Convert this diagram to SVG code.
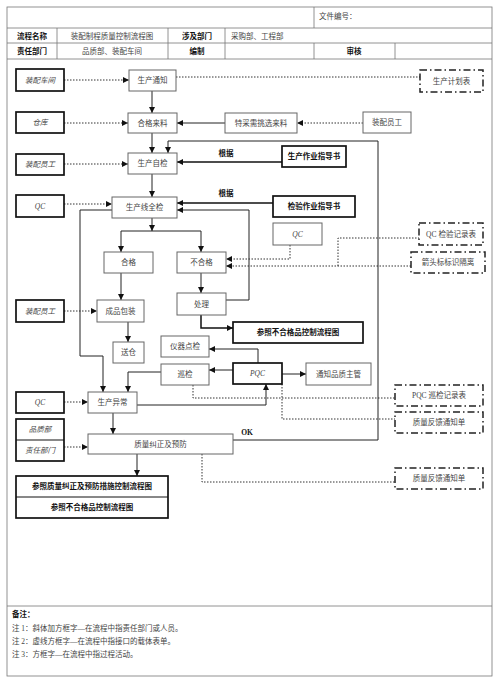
<svg xmlns="http://www.w3.org/2000/svg" width="500" height="684" viewBox="0 0 500 684">
<style>
text{font-family:"Liberation Serif","Noto Sans CJK SC",serif;font-size:7.5px;fill:#444;text-anchor:middle;dominant-baseline:central}
.b{font-weight:bold;fill:#111}
.i{font-style:italic}
.l{text-anchor:start}
.thin{fill:#fff;stroke:#666;stroke-width:1}
.thick{fill:#fff;stroke:#111;stroke-width:1.7}
.dd{fill:#fff;stroke:#222;stroke-width:1.5;stroke-dasharray:7 3 1.5 3}
.grid{stroke:#777;stroke-width:0.8;fill:none}
.c{fill:none;stroke:#222;stroke-width:1}
.cb{fill:none;stroke:#111;stroke-width:1.5}
.d{fill:none;stroke:#333;stroke-width:1;stroke-dasharray:1.5 1.5}
</style>
<defs>
<marker id="a" markerUnits="userSpaceOnUse" markerWidth="6" markerHeight="6" refX="6" refY="3" orient="auto">
<path d="M0,0 L6,3 L0,6 z" fill="#111"/>
</marker>
</defs>
<rect width="500" height="684" fill="#fff"/>
<g id="frame">
<rect x="7" y="7" width="485" height="669" class="grid"/>
<path class="grid" d="M7,28H492M7,43H492M7,59H492M314,7V28M57,28V59M168,28V59M225,28V59M314,43V59M395,43V59M7,606H492"/>
<text x="319" y="16" class="l">文件编号：</text>
<text x="32" y="36" class="b">流程名称</text>
<text x="112" y="36">装配制程质量控制流程图</text>
<text x="197" y="36" class="b">涉及部门</text>
<text x="231" y="36" class="l">采购部、工程部</text>
<text x="32" y="51" class="b">责任部门</text>
<text x="112" y="51">品质部、装配车间</text>
<text x="197" y="51" class="b">编制</text>
<text x="354" y="51" class="b">审核</text>
<text x="12" y="614" class="b l">备注：</text>
<text x="12" y="628" class="l">注 1：斜体加方框字—在流程中指责任部门或人员。</text>
<text x="12" y="641" class="l">注 2：虚线方框字—在流程中指接口的载体表单。</text>
<text x="12" y="654" class="l">注 3：方框字—在流程中指过程活动。</text>
</g>
<g id="connectors">
<path class="d" d="M64,80H129" marker-end="url(#a)"/>
<path class="d" d="M176,77H420"/>
<path class="c" d="M152,91V113" marker-end="url(#a)"/>
<path class="d" d="M64,123H128" marker-end="url(#a)"/>
<path class="d" d="M363,123H297" marker-end="url(#a)"/>
<path class="c" d="M225,123H177" marker-end="url(#a)"/>
<path class="c" d="M152,133V153" marker-end="url(#a)"/>
<path class="d" d="M64,164H128" marker-end="url(#a)"/>
<path class="cb" d="M282,162H177" marker-end="url(#a)"/>
<path class="c" d="M152,174V197" marker-end="url(#a)"/>
<path class="d" d="M64,204H112" marker-end="url(#a)"/>
<path class="cb" d="M273,203H177" marker-end="url(#a)"/>
<path class="c" d="M152,218V231" marker-end="url(#a)"/>
<path class="c" d="M121,231H201"/>
<path class="c" d="M121,231V252" marker-end="url(#a)"/>
<path class="c" d="M201,231V252" marker-end="url(#a)"/>
<path class="c" d="M121,273V300" marker-end="url(#a)"/>
<path class="d" d="M64,311H97" marker-end="url(#a)"/>
<path class="c" d="M128,322V342" marker-end="url(#a)"/>
<path class="c" d="M201,273V293" marker-end="url(#a)"/>
<path class="c" d="M226,300H249V210H177" marker-end="url(#a)"/>
<path class="cb" d="M201,315V328H233" marker-end="url(#a)"/>
<path class="d" d="M290,245V259H226" marker-end="url(#a)"/>
<path class="d" d="M411,266H226" marker-end="url(#a)"/>
<path class="d" d="M338,266V238H419"/>
<path class="c" d="M112,210H80V356H103V392" marker-end="url(#a)"/>
<path class="c" d="M161,372H128V392" marker-end="url(#a)"/>
<path class="c" d="M233,370H209" marker-end="url(#a)"/>
<path class="c" d="M258,363V349H209" marker-end="url(#a)"/>
<path class="c" d="M282,374H306" marker-end="url(#a)"/>
<path class="d" d="M64,402H88" marker-end="url(#a)"/>
<path class="c" d="M137,405H266V384" marker-end="url(#a)"/>
<path class="d" d="M193,385V398H395"/>
<path class="d" d="M282,384V419H395"/>
<path class="c" d="M113,413V434" marker-end="url(#a)"/>
<path class="d" d="M64,447H88" marker-end="url(#a)"/>
<path class="c" d="M233,440H378V141H168V153" marker-end="url(#a)"/>
<path class="c" d="M137,454V476" marker-end="url(#a)"/>
<path class="d" d="M202,454V482H395"/>
<text x="226" y="153" class="b">根据</text>
<text x="226" y="193" class="b">根据</text>
<text x="247" y="432" class="b">OK</text>
</g>
<g id="n_zpcj"><rect x="16" y="69" width="48" height="22" class="thick"/><text x="40" y="80" class="i">装配车间</text></g>
<g id="n_sctz"><rect x="129" y="70" width="47" height="21" class="thin"/><text x="152.5" y="80.5">生产通知</text></g>
<g id="n_scjhb"><rect x="420" y="70" width="63" height="22" class="dd"/><text x="451.5" y="81">生产计划表</text></g>
<g id="n_ck"><rect x="16" y="112" width="48" height="21" class="thick"/><text x="40" y="122.5" class="i">仓库</text></g>
<g id="n_hgll"><rect x="128" y="113" width="49" height="20" class="thin"/><text x="152.5" y="123">合格来料</text></g>
<g id="n_tc"><rect x="225" y="113" width="72" height="20" class="thin"/><text x="261" y="123">特采需挑选来料</text></g>
<g id="n_zpyg2"><rect x="363" y="112" width="48" height="21" class="thin"/><text x="387" y="122.5">装配员工</text></g>
<g id="n_zpyg1"><rect x="16" y="154" width="48" height="21" class="thick"/><text x="40" y="164.5" class="i">装配员工</text></g>
<g id="n_sczj"><rect x="128" y="153" width="49" height="21" class="thin"/><text x="152.5" y="163.5">生产自检</text></g>
<g id="n_sczd"><rect x="282" y="146" width="64" height="21" class="thick"/><text x="314" y="156.5" class="b">生产作业指导书</text></g>
<g id="n_qc1"><rect x="16" y="195" width="48" height="22" class="thick"/><text x="40" y="206" class="i">QC</text></g>
<g id="n_scxqj"><rect x="112" y="197" width="65" height="21" class="thin"/><text x="144.5" y="207.5">生产线全检</text></g>
<g id="n_jyzd"><rect x="273" y="196" width="82" height="21" class="thick"/><text x="314" y="206.5" class="b">检验作业指导书</text></g>
<g id="n_hg"><rect x="104" y="252" width="49" height="21" class="thin"/><text x="128.5" y="262.5">合格</text></g>
<g id="n_bhg"><rect x="177" y="252" width="49" height="21" class="thin"/><text x="201.5" y="262.5">不合格</text></g>
<g id="n_qc2"><rect x="273" y="223" width="49" height="22" class="thin"/><text x="297.5" y="234" class="i">QC</text></g>
<g id="n_qcjy"><rect x="419" y="223" width="64" height="22" class="dd"/><text x="451" y="234">QC 检验记录表</text></g>
<g id="n_jtbs"><rect x="411" y="252" width="74" height="21" class="dd"/><text x="448" y="262.5">箭头标标识隔离</text></g>
<g id="n_zpyg3"><rect x="16" y="300" width="48" height="22" class="thick"/><text x="40" y="311" class="i">装配员工</text></g>
<g id="n_cpbz"><rect x="97" y="300" width="47" height="22" class="thin"/><text x="120.5" y="311">成品包装</text></g>
<g id="n_cl"><rect x="177" y="293" width="49" height="22" class="thin"/><text x="201.5" y="304">处理</text></g>
<g id="n_cz"><rect x="233" y="322" width="130" height="21" class="thick"/><text x="298" y="332.5" class="b">参照不合格品控制流程图</text></g>
<g id="n_sc"><rect x="113" y="342" width="31" height="21" class="thin"/><text x="128.5" y="352.5">送仓</text></g>
<g id="n_yqdj"><rect x="161" y="336" width="48" height="21" class="thin"/><text x="185" y="346.5">仪器点检</text></g>
<g id="n_xj"><rect x="161" y="364" width="48" height="21" class="thin"/><text x="185" y="374.5">巡检</text></g>
<g id="n_pqc"><rect x="233" y="363" width="49" height="21" class="thick"/><text x="257.5" y="373.5" class="i">PQC</text></g>
<g id="n_tzpz"><rect x="306" y="363" width="65" height="22" class="thin"/><text x="338.5" y="374">通知品质主管</text></g>
<g id="n_pqcjl"><rect x="395" y="385" width="88" height="21" class="dd"/><text x="439" y="395.5">PQC 巡检记录表</text></g>
<g id="n_zlfk1"><rect x="395" y="412" width="88" height="21" class="dd"/><text x="439" y="422.5">质量反馈通知单</text></g>
<g id="n_qc3"><rect x="16" y="392" width="48" height="21" class="thick"/><text x="40" y="402.5" class="i">QC</text></g>
<g id="n_scyc"><rect x="88" y="392" width="49" height="21" class="thin"/><text x="112.5" y="402.5">生产异常</text></g>
<g id="n_pzb"><rect x="16" y="419" width="48" height="42" class="thick"/><path d="M16,440H64" stroke="#111" stroke-width="1"/><text x="40" y="429.5" class="i">品质部</text><text x="40" y="450.5" class="i">责任部门</text></g>
<g id="n_zljz"><rect x="88" y="434" width="145" height="20" class="thin"/><text x="160.5" y="444">质量纠正及预防</text></g>
<g id="n_zlfk2"><rect x="395" y="468" width="88" height="21" class="dd"/><text x="439" y="478.5">质量反馈通知单</text></g>
<g id="n_ref"><rect x="16" y="476" width="152" height="42" class="thick"/><path d="M16,497H168" stroke="#111" stroke-width="1"/><text x="92" y="486.5" class="b">参照质量纠正及预防措施控制流程图</text><text x="92" y="507.5" class="b">参照不合格品控制流程图</text></g>
</svg>
